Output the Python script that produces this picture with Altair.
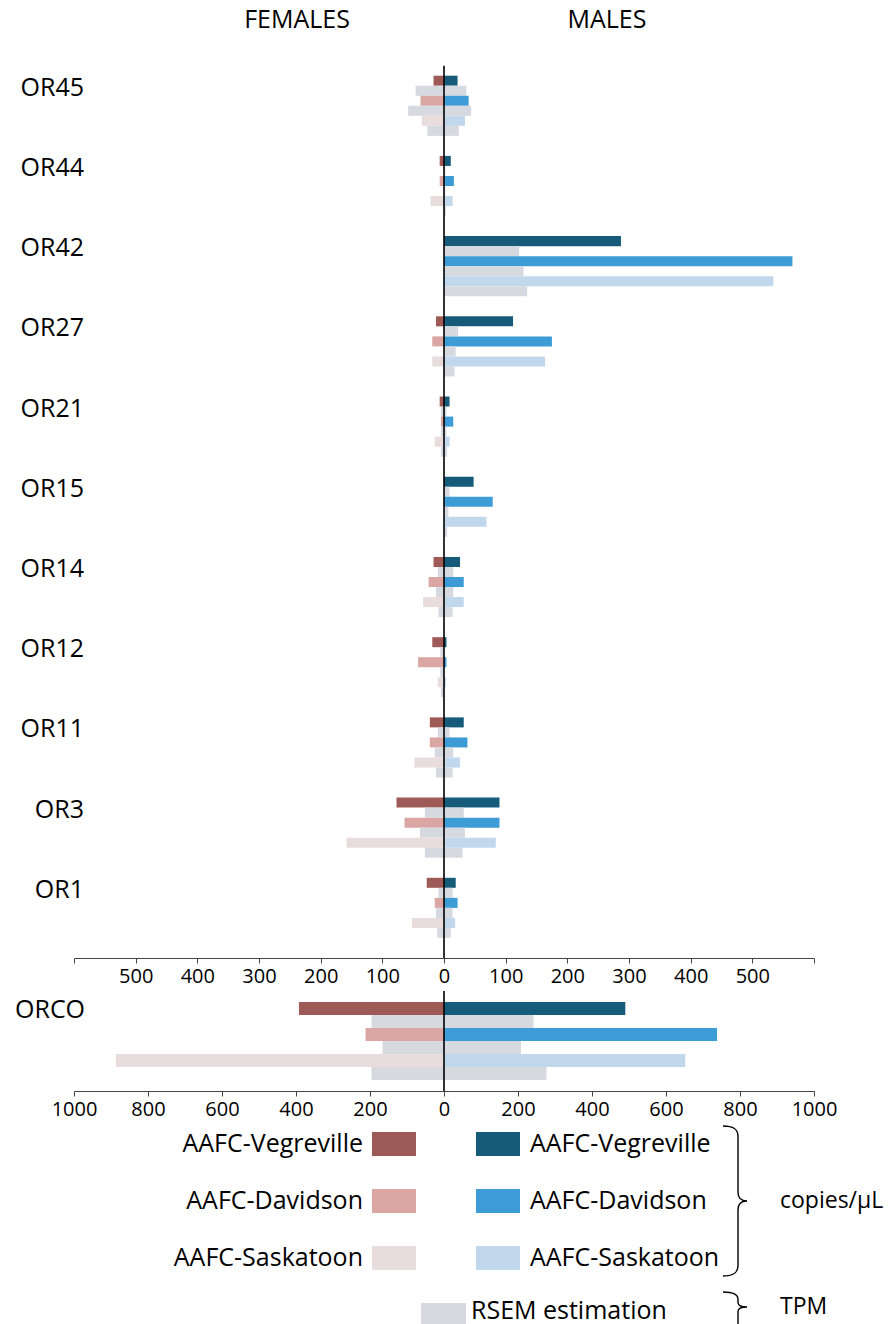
import altair as alt
import pandas as pd

# Odorant receptor genes, top to bottom
genes = ["OR45", "OR44", "OR42", "OR27", "OR21", "OR15", "OR14", "OR12", "OR11", "OR3", "OR1"]
populations = ["Vegreville", "Davidson", "Saskatoon"]

# qPCR, copies/µL – females
female_vegreville = [17, 7, 0, 13, 7, 0, 17, 19, 23, 77, 28]
female_davidson = [38, 7, 0, 19, 5, 0, 25, 42, 23, 64, 15]
female_saskatoon = [36, 22, 0, 19, 15, 0, 34, 10, 48, 158, 52]
# qPCR, copies/µL – males
male_vegreville = [22, 11, 287, 112, 9, 48, 26, 4, 32, 90, 19]
male_davidson = [40, 16, 565, 175, 15, 79, 32, 4, 38, 90, 22]
male_saskatoon = [34, 14, 534, 164, 9, 69, 32, 3, 26, 84, 18]

# RSEM estimation, TPM – females
female_rsem_vegreville = [46, 0, 0, 0, 5, 0, 10, 6, 10, 31, 9]
female_rsem_davidson = [58, 0, 0, 0, 5, 0, 13, 6, 15, 39, 13]
female_rsem_saskatoon = [27, 0, 0, 0, 5, 0, 9, 5, 13, 31, 11]
# RSEM estimation, TPM – males
male_rsem_vegreville = [36, 2, 122, 23, 4, 9, 15, 1, 9, 32, 14]
male_rsem_davidson = [44, 2, 129, 19, 4, 7, 15, 1, 15, 34, 14]
male_rsem_saskatoon = [24, 3, 135, 17, 5, 5, 14, 1, 14, 30, 11]

# Olfactory co-receptor
orco_female = [392, 212, 887]
orco_male = [490, 738, 652]
orco_female_rsem = [196, 166, 196]
orco_male_rsem = [242, 208, 277]

series_keys = ["F-Vegreville", "F-Davidson", "F-Saskatoon",
               "M-Vegreville", "M-Davidson", "M-Saskatoon", "RSEM"]
series_colors = ["#9e5a56", "#d9a6a4", "#e9dcdc",
                 "#175b7b", "#3d9bd6", "#c1d8ec", "#d6d9e0"]

FONT = "Open Sans"
PANEL_W = 740


def long_rows(gene_list, f_q, m_q, f_r, m_r):
    """One row per bar; each gene takes 8 slots (6 bars + 2 gap)."""
    rows = []
    for gi, gene in enumerate(gene_list):
        for pi, pop in enumerate(populations):
            base = gi * 8 + pi * 2
            rows.append(dict(gene=gene, slot=base, value=-f_q[pop][gi], key=f"F-{pop}"))
            rows.append(dict(gene=gene, slot=base, value=m_q[pop][gi], key=f"M-{pop}"))
            rows.append(dict(gene=gene, slot=base + 1, value=-f_r[pop][gi], key="RSEM"))
            rows.append(dict(gene=gene, slot=base + 1, value=m_r[pop][gi], key="RSEM"))
    df = pd.DataFrame(rows)
    df["slot_end"] = df["slot"] + 1
    return df


or_df = long_rows(
    genes,
    dict(zip(populations, [female_vegreville, female_davidson, female_saskatoon])),
    dict(zip(populations, [male_vegreville, male_davidson, male_saskatoon])),
    dict(zip(populations, [female_rsem_vegreville, female_rsem_davidson, female_rsem_saskatoon])),
    dict(zip(populations, [male_rsem_vegreville, male_rsem_davidson, male_rsem_saskatoon])),
)
orco_df = long_rows(
    ["ORCO"],
    {p: [v] for p, v in zip(populations, orco_female)},
    {p: [v] for p, v in zip(populations, orco_male)},
    {p: [v] for p, v in zip(populations, orco_female_rsem)},
    {p: [v] for p, v in zip(populations, orco_male_rsem)},
)
label_df = pd.DataFrame({"gene": genes, "slot": [i * 8 for i in range(len(genes))]})

color = alt.Color("key:N", scale=alt.Scale(domain=series_keys, range=series_colors), legend=None)


def x_axis(values, expr):
    return alt.Axis(values=values, labelExpr=expr, grid=False, title=None,
                    domainColor="#444", tickColor="#444", domainWidth=1.2,
                    labelFontSize=20, labelFont=FONT, labelColor="black",
                    tickSize=5, labelPadding=3, labelFlush=False, labelOverlap=False)


def bars_layer(df, x_scale, axis, y_scale):
    return alt.Chart(df).mark_rect().encode(
        x=alt.X("value:Q", scale=x_scale, axis=axis),
        x2=alt.X2(datum=0),
        y=alt.Y("slot:Q", scale=y_scale, axis=None),
        y2="slot_end:Q",
        color=color,
    )


# ---- receptor panel -------------------------------------------------------
top_x = alt.Scale(domain=[-600, 600], nice=False, zero=False)
top_y = alt.Scale(domain=[-7.55, 88], nice=False, zero=False, reverse=True)
top_axis = x_axis(list(range(-600, 601, 100)),
                  "abs(datum.value) >= 600 ? '' : format(abs(datum.value), 'd')")

top_bars = bars_layer(or_df, top_x, top_axis, top_y)
top_zero = alt.Chart(pd.DataFrame({"z": [0]})).mark_rule(color="black", strokeWidth=1.6).encode(
    x=alt.X(datum=0, scale=top_x),
    y=alt.Y(datum=-1, scale=top_y),
    y2=alt.Y2(datum=88),
)
top_labels = alt.Chart(label_df).mark_text(
    align="right", baseline="middle", font=FONT, fontSize=25, dy=12, color="black"
).encode(
    x=alt.value(10),
    y=alt.Y("slot:Q", scale=top_y),
    text="gene:N",
)
headers = alt.Chart(pd.DataFrame({"side": ["FEMALES", "MALES"], "pos": [223, 533]})).mark_text(
    align="center", baseline="middle", font=FONT, fontSize=25, color="black"
).encode(
    x=alt.X("pos:Q", scale=None),
    y=alt.value(20),
    text="side:N",
)
top_panel = alt.layer(top_bars, top_zero, top_labels, headers).properties(width=PANEL_W, height=958)

# ---- ORCO panel -----------------------------------------------------------
orco_x = alt.Scale(domain=[-1000, 1000], nice=False, zero=False)
orco_y = alt.Scale(domain=[-0.85, 6.85], nice=False, zero=False, reverse=True)
orco_axis = x_axis(list(range(-1000, 1001, 100)),
                   "abs(datum.value) % 200 == 0 ? format(abs(datum.value), 'd') : ''")
orco_bars = bars_layer(orco_df, orco_x, orco_axis, orco_y)
orco_zero = alt.Chart(pd.DataFrame({"z": [0]})).mark_rule(color="black", strokeWidth=1.6).encode(
    x=alt.X(datum=0, scale=orco_x),
    y=alt.Y(datum=-0.85, scale=orco_y),
    y2=alt.Y2(datum=6.85),
)
orco_label = alt.Chart(pd.DataFrame({"gene": ["ORCO"], "slot": [0]})).mark_text(
    align="left", baseline="middle", font=FONT, fontSize=25, dy=8, color="black"
).encode(
    x=alt.value(-59),
    y=alt.Y("slot:Q", scale=orco_y),
    text="gene:N",
)
orco_panel = alt.layer(orco_bars, orco_zero, orco_label).properties(width=PANEL_W, height=100)

# ---- legend ---------------------------------------------------------------
legend_labels = ["AAFC-Vegreville", "AAFC-Davidson", "AAFC-Saskatoon"]
legend_rows = []
for i, lab in enumerate(legend_labels):
    legend_rows.append(dict(col="F", row=i, label=lab, key=series_keys[i]))
    legend_rows.append(dict(col="M", row=i, label=lab, key=series_keys[i + 3]))
legend_rows.append(dict(col="R", row=3, label="RSEM estimation", key="RSEM"))
legend_df = pd.DataFrame(legend_rows)

leg_y = alt.Y("row:O", scale=alt.Scale(domain=[0, 1, 2, 3], range=[8, 203],
                                       paddingInner=0.579, paddingOuter=0), axis=None)
leg_base = alt.Chart(legend_df)


def swatch(col, x0, x1):
    return leg_base.transform_filter(alt.datum.col == col).mark_rect().encode(
        x=alt.value(x0), x2=alt.value(x1), y=leg_y, color=color)


def swatch_text(col, x, align, dy=0):
    return leg_base.transform_filter(alt.datum.col == col).mark_text(
        align=align, baseline="middle", font=FONT, fontSize=25, color="black", dy=dy
    ).encode(x=alt.value(x), y=leg_y, text="label:N")


brace_tall = ("M-0.2,-1 C-0.06,-1 0,-0.96 0,-0.86 L0,-0.12 C0,-0.04 0.04,0 0.12,0 "
              "C0.04,0 0,0.04 0,0.12 L0,0.86 C0,0.96 -0.06,1 -0.2,1")
brace_short = ("M-0.2,-0.2 C-0.06,-0.2 0,-0.17 0,-0.1 L0,-0.06 C0,-0.02 0.04,0 0.12,0 "
               "C0.04,0 0,0.02 0,0.06 L0,0.24 C0,0.31 -0.06,0.34 -0.2,0.34")
unit_df = pd.DataFrame({"unit": ["copies/µL", "TPM"], "shape": [brace_tall, brace_short]})


def brace(idx, y):
    sub = unit_df.iloc[[idx]]
    mark = alt.Chart(sub).mark_point(
        shape=sub["shape"].iloc[0], filled=False, stroke="black", strokeWidth=1.4,
        size=22500, opacity=1
    ).encode(x=alt.value(664), y=alt.value(y))
    txt = alt.Chart(sub).mark_text(
        align="left", baseline="middle", font=FONT, fontSize=23, color="black"
    ).encode(x=alt.value(706), y=alt.value(y), text="unit:N")
    return mark + txt


legend_panel = alt.layer(
    swatch("F", 298, 342), swatch_text("F", 289, "right"),
    swatch("M", 402, 446), swatch_text("M", 456, "left"),
    swatch("R", 347, 392), swatch_text("R", 397, "left", dy=-4),
    brace(0, 77), brace(1, 183),
).properties(width=PANEL_W, height=204)

chart = alt.vconcat(top_panel, orco_panel, legend_panel, spacing=4).properties(
    padding={"left": 15, "top": 0, "right": 0, "bottom": 0}
).configure(font=FONT).configure_view(stroke=None)

chart.save("out.html", embed_options={"renderer": "svg", "actions": False})
